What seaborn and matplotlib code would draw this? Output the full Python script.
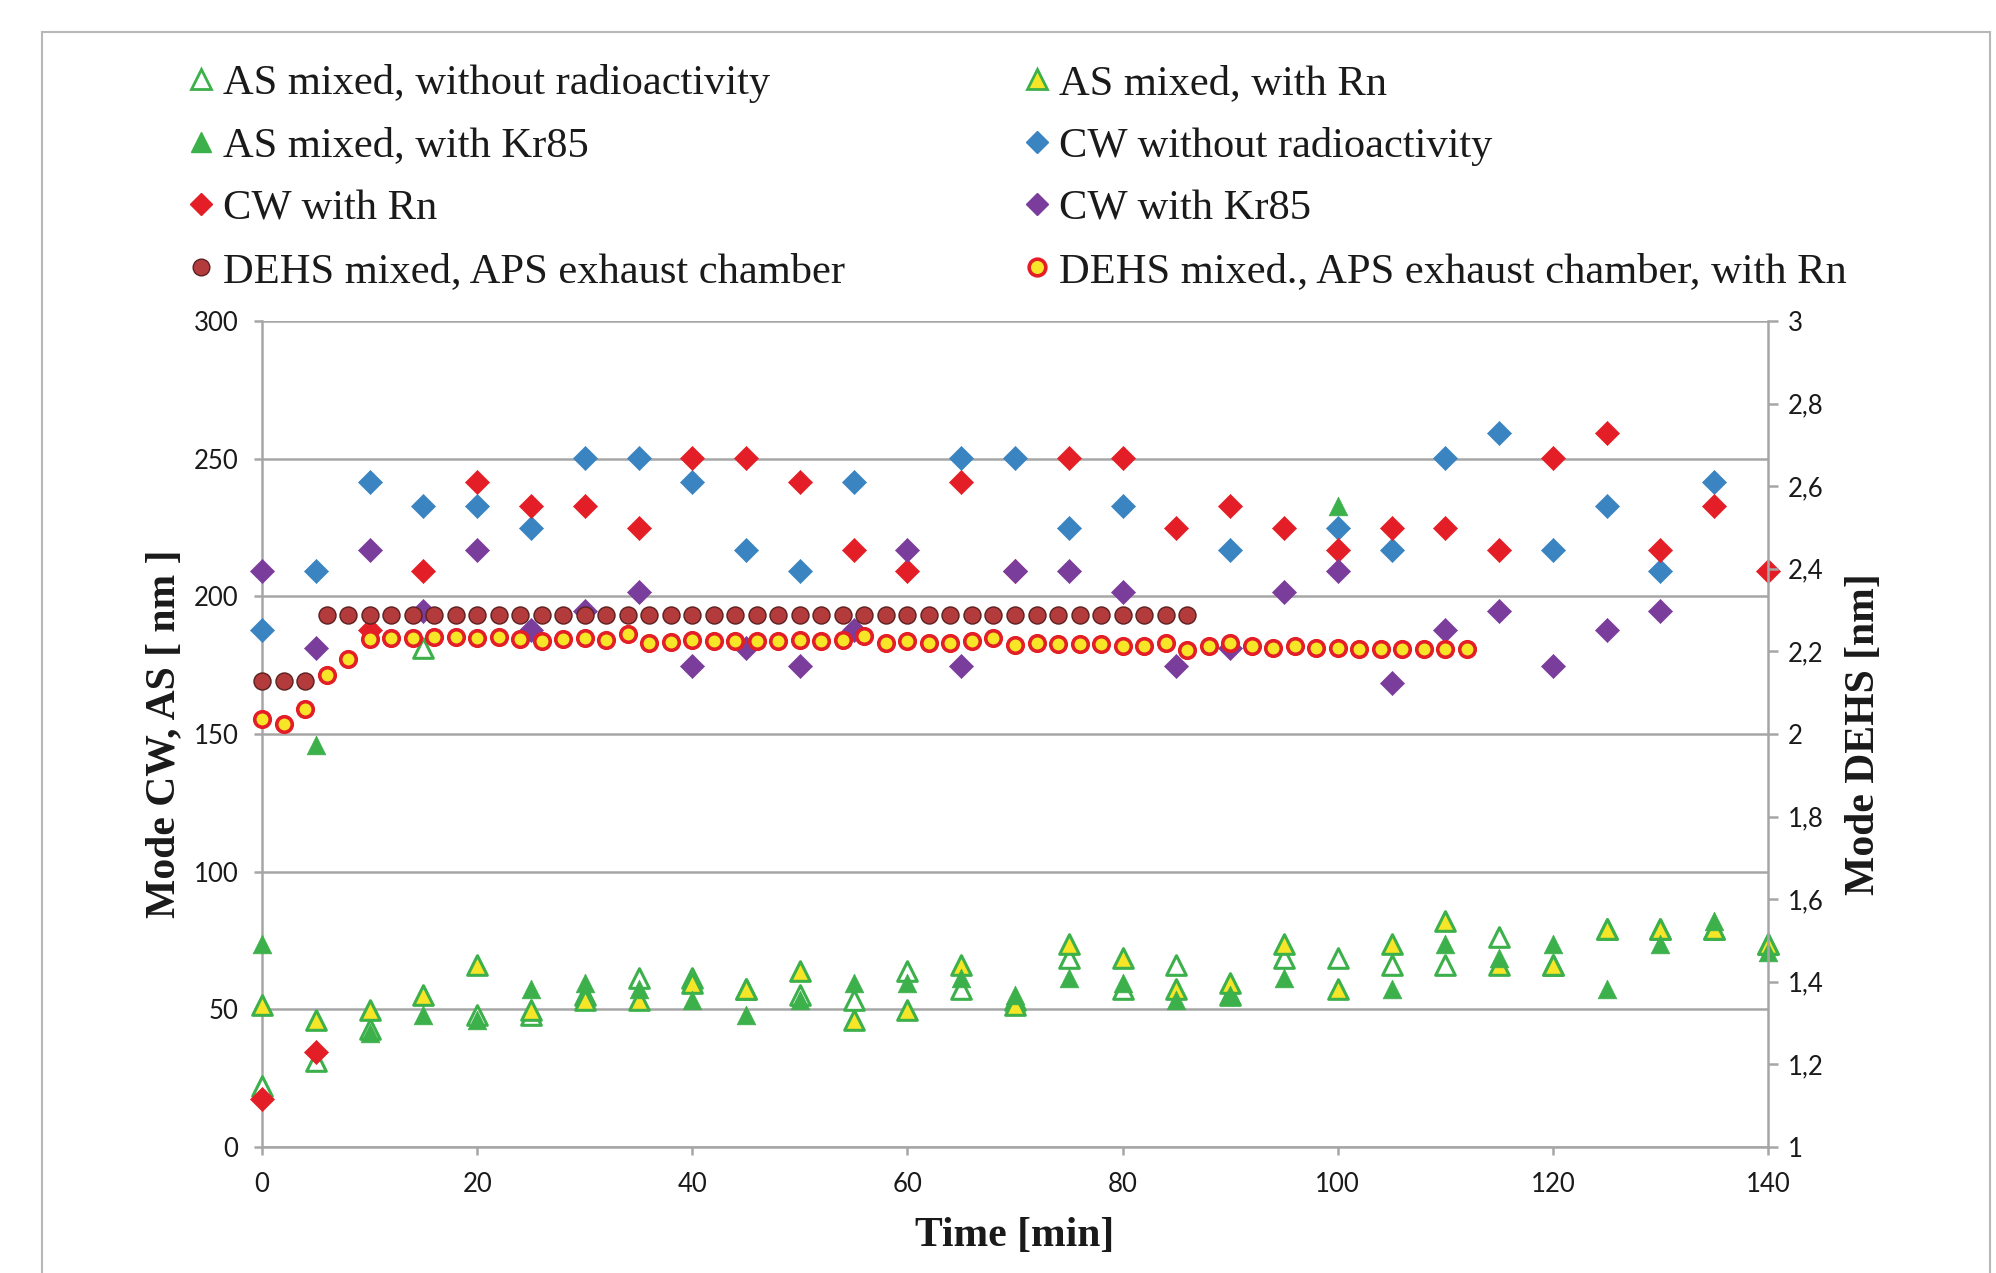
import numpy as np
import pandas as pd
import seaborn as sns
import matplotlib.pyplot as plt
from matplotlib.lines import Line2D
from matplotlib.patches import Rectangle
from matplotlib.ticker import FuncFormatter

# sampling times [min]
time_cw = [0, 5, 10, 15, 20, 25, 30, 35, 40, 45, 50, 55, 60, 65, 70,
           75, 80, 85, 90, 95, 100, 105, 110, 115, 120, 125, 130, 135, 140]
time_dehs = [0, 2, 4, 6, 8, 10, 12, 14, 16, 18, 20, 22, 24, 26, 28, 30,
             32, 34, 36, 38, 40, 42, 44, 46, 48, 50, 52, 54, 56, 58, 60,
             62, 64, 66, 68, 70, 72, 74, 76, 78, 80, 82, 84, 86]
time_dehs_rn = [0, 2, 4, 6, 8, 10, 12, 14, 16, 18, 20, 22, 24, 26, 28, 30,
                32, 34, 36, 38, 40, 42, 44, 46, 48, 50, 52, 54, 56, 58, 60,
                62, 64, 66, 68, 70, 72, 74, 76, 78, 80, 82, 84, 86, 88, 90,
                92, 94, 96, 98, 100, 102, 104, 106, 108, 110, 112]

nan = np.nan
# left axis [nm]
as_none = [22.1, 31.1, 42.9, 181.1, 47.8, 47.8, 55.2, 61.5, 61.5, 57.3, 55.2,
           53.3, 63.8, 57.3, 53.3, 68.5, 57.3, 66.1, 55.2, 68.5, 68.5, 66.1,
           66.1, 76.4, 66.1, 79.1, 79.1, 79.1, 73.7]
as_rn = [51.4, 46.1, 49.6, 55.2, 66.1, 49.6, 53.3, 53.3, 59.4, 57.3, 63.8,
         46.1, 49.6, 66.1, 51.4, 73.7, 68.5, 57.3, 59.4, 73.7, 57.3, 73.7,
         82.0, 66.1, 66.1, 79.1, 79.1, 79.1, 73.7]
as_kr = [73.7, 145.9, 41.4, 47.8, 46.1, 57.3, 59.4, 57.3, 53.3, 47.8, 53.3,
         59.4, 59.4, 61.5, 55.2, 61.5, 59.4, 53.3, 55.2, 61.5, 232.9, 57.3,
         73.7, 68.5, 73.7, 57.3, 73.7, 82.0, 71.0]
cw_none = [187.7, 209.1, 241.4, 232.9, 232.9, 224.7, 250.3, 250.3, 241.4,
           216.7, 209.1, 241.4, nan, 250.3, 250.3, 224.7, 232.9, nan, 216.7,
           nan, 224.7, 216.7, 250.3, 259.5, 216.7, 232.9, 209.1, 241.4, nan]
cw_rn = [17.5, 34.6, 187.7, 209.1, 241.4, 232.9, 232.9, 224.7, 250.3, 250.3,
         241.4, 216.7, 209.1, 241.4, 209.1, 250.3, 250.3, 224.7, 232.9, 224.7,
         216.7, 224.7, 224.7, 216.7, 250.3, 259.5, 216.7, 232.9, 209.1]
cw_kr = [209.1, 181.1, 216.7, 194.6, 216.7, 187.7, 194.6, 201.7, 174.7, 181.1,
         174.7, 187.7, 216.7, 174.7, 209.1, 209.1, 201.7, 174.7, 181.1, 201.7,
         209.1, 168.5, 187.7, 194.6, 174.7, 187.7, 194.6, nan, nan]
# right axis [nm]
dehs = [2.129, 2.129, 2.129] + [2.288] * 41
dehs_rn = [2.036, 2.025, 2.061, 2.143, 2.182, 2.229, 2.233, 2.232, 2.234,
           2.235, 2.232, 2.234, 2.230, 2.224, 2.229, 2.232, 2.227, 2.241,
           2.221, 2.223, 2.228, 2.225, 2.225, 2.224, 2.224, 2.228, 2.224,
           2.227, 2.237, 2.220, 2.224, 2.221, 2.221, 2.224, 2.232, 2.215,
           2.220, 2.219, 2.219, 2.219, 2.213, 2.213, 2.220, 2.203, 2.212,
           2.220, 2.214, 2.208, 2.212, 2.208, 2.208, 2.207, 2.207, 2.207,
           2.205, 2.207, 2.207]

labels = ["AS mixed, without radioactivity", "AS mixed, with Rn",
          "AS mixed, with Kr85", "CW without radioactivity", "CW with Rn",
          "CW with Kr85", "DEHS mixed, APS exhaust chamber",
          "DEHS mixed., APS exhaust chamber, with Rn"]

green = '#3cb04a'
yellow = '#f7e627'
blue = '#3a84c1'
red = '#e31e26'
purple = '#7b3d9b'
brown = '#b43b3b'
grid_c = '#a6a6a6'

sns.set_style('white')
plt.rcParams['font.family'] = ['Lato', 'DejaVu Sans']

fig = plt.figure(figsize=(19.96, 12.73), dpi=100)
ax = fig.add_axes([262 / 1996, 1 - 1147 / 1273, 1506 / 1996, 826 / 1273])
ax2 = ax.twinx()

styles = [
    (as_none, dict(marker='^', s=200, color='white', edgecolor=green, linewidth=2.2)),
    (as_rn, dict(marker='^', s=200, color=yellow, edgecolor=green, linewidth=2.2)),
    (as_kr, dict(marker='^', s=180, color=green, edgecolor=green, linewidth=0.5)),
    (cw_none, dict(marker='D', s=150, color=blue, edgecolor=blue, linewidth=0.5)),
    (cw_rn, dict(marker='D', s=150, color=red, edgecolor=red, linewidth=0.5)),
    (cw_kr, dict(marker='D', s=150, color=purple, edgecolor=purple, linewidth=0.5)),
]
for vals, kw in styles:
    sns.scatterplot(x=time_cw, y=vals, ax=ax, clip_on=False, zorder=3, **kw)

sns.scatterplot(x=time_dehs, y=dehs, ax=ax2, marker='o', s=150, color=brown,
                edgecolor='#5a2020', linewidth=1.0, clip_on=False, zorder=3)
sns.scatterplot(x=time_dehs_rn, y=dehs_rn, ax=ax2, marker='o', s=125,
                color=yellow, edgecolor=red, linewidth=2.6, clip_on=False,
                zorder=3)

ax.set_xlim(0, 140)
ax.set_ylim(0, 300)
ax2.set_ylim(1, 3)
ax.set_xticks([0, 20, 40, 60, 80, 100, 120, 140])
ax.set_yticks([0, 50, 100, 150, 200, 250, 300])
ax2.set_yticks(np.arange(1, 3.01, 0.2))
ax2.yaxis.set_major_formatter(FuncFormatter(lambda v, p: f'{v:g}'.replace('.', ',')))

ax.yaxis.grid(True, color=grid_c, lw=1.8)
ax.xaxis.grid(False)
ax.set_axisbelow(True)
for a in (ax, ax2):
    for side in a.spines:
        a.spines[side].set_visible(False)
ax.spines['left'].set_visible(True)
ax.spines['bottom'].set_visible(True)
ax2.spines['right'].set_visible(True)
for sp in (ax.spines['left'], ax.spines['bottom'], ax2.spines['right']):
    sp.set_color(grid_c)
    sp.set_linewidth(1.8)

ax.tick_params(axis='y', direction='out', length=6, width=1.8, color=grid_c,
               labelsize=18.5, labelcolor='#1a1a1a', pad=11, left=True)
ax.tick_params(axis='x', direction='out', length=6, width=1.8, color=grid_c,
               labelsize=18.5, labelcolor='#1a1a1a', pad=12, bottom=True)
ax2.tick_params(axis='y', direction='out', length=7, width=1.8, color=grid_c,
                labelsize=18.5, labelcolor='#1a1a1a', pad=7, right=True)

serif_bold = dict(family='Liberation Serif', weight='bold', size=30, color='#1a1a1a')
ax.set_xlabel('Time [min]', **serif_bold)
ax.set_ylabel('Mode CW, AS [ nm ]', **serif_bold)
ax2.set_ylabel('Mode DEHS [nm]', **serif_bold)
ax.xaxis.set_label_coords(0.5, -0.085)
ax.yaxis.set_label_coords(-0.052, 0.5)
ax2.yaxis.set_label_coords(1.051, 0.5)

# legend, column-wise order so the rows read as in the original
h = [
    Line2D([], [], ls='', marker='^', ms=14, mfc='white', mec=green, mew=2),
    Line2D([], [], ls='', marker='^', ms=14, mfc=green, mec=green),
    Line2D([], [], ls='', marker='D', ms=11, mfc=red, mec=red),
    Line2D([], [], ls='', marker='o', ms=12, mfc=brown, mec='#5a2020', mew=1),
    Line2D([], [], ls='', marker='^', ms=14, mfc=yellow, mec=green, mew=2),
    Line2D([], [], ls='', marker='D', ms=11, mfc=blue, mec=blue),
    Line2D([], [], ls='', marker='D', ms=11, mfc=purple, mec=purple),
    Line2D([], [], ls='', marker='o', ms=12, mfc=yellow, mec=red, mew=2.6),
]
order = [0, 2, 4, 6, 1, 3, 5, 7]
fig.legend(h, [labels[i] for i in order], ncol=2, loc='upper left',
           bbox_to_anchor=(188 / 1996, 1 - 64 / 1273), frameon=False,
           prop=dict(family='Liberation Serif', size=30.6), handlelength=0.6,
           handletextpad=0.22, columnspacing=4.22, labelspacing=0.56,
           borderpad=0, borderaxespad=0, labelcolor='#1a1a1a')

fig.add_artist(Rectangle((42 / 1996, -0.05), 1948 / 1996, 1.05 - 32 / 1273,
                         transform=fig.transFigure, fill=False,
                         ec='#b8b8b8', lw=1.5))

fig.savefig('out.png', dpi=100)
